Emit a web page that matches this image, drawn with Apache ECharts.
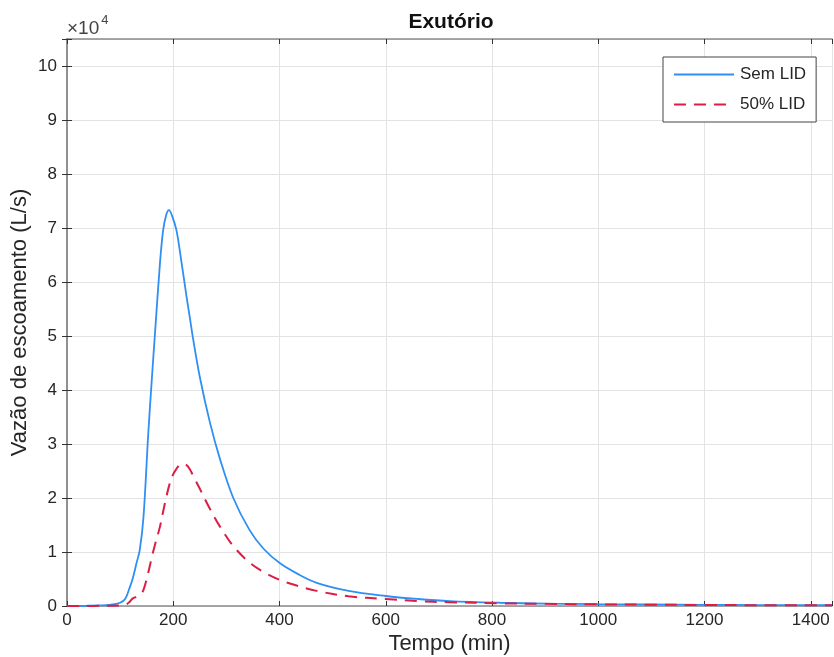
<!DOCTYPE html>
<html>
<head>
<meta charset="utf-8">
<script src="https://cdn.jsdelivr.net/npm/echarts@6/dist/echarts.min.js"></script>
<style>html,body{margin:0;padding:0;background:#fff;}#c{width:834px;height:657px;}</style>
</head>
<body>
<div id="c"></div>
<script>
// Time (min)
var timeMin = [0, 20, 40, 60, 80, 100, 110, 118, 124, 131, 137, 144, 153, 160, 166, 175, 181, 187, 192, 198, 206, 215, 225, 232, 237, 250, 269, 288, 313, 344, 370, 401, 435, 470, 530, 600, 660, 720, 815, 900, 1000, 1100, 1200, 1300, 1440];
// Flow (L/s)
var semLid = [0, 0, 50, 100, 200, 600, 1400, 3400, 5200, 8000, 10400, 16500, 32000, 42500, 51000, 63500, 69600, 72500, 73300, 72200, 69600, 64000, 57300, 52900, 49700, 42400, 34000, 27200, 20000, 14000, 10600, 7900, 5900, 4300, 2800, 1850, 1300, 900, 600, 450, 350, 280, 220, 180, 140];
var lid50 = [0, 0, 0, 30, 50, 100, 200, 800, 1400, 1700, 2000, 3000, 6200, 9200, 11500, 14700, 17500, 20200, 22200, 24000, 25400, 26300, 26100, 25200, 24200, 21700, 18000, 14700, 11100, 8000, 6300, 4800, 3700, 2800, 1800, 1300, 900, 700, 500, 400, 300, 240, 190, 150, 120];
var seriesNames = ['Sem LID', '50% LID'];
var xTicks = [0, 200, 400, 600, 800, 1000, 1200, 1400];
var yTicks = [0, 1, 2, 3, 4, 5, 6, 7, 8, 9, 10];

function pairs(t, v) { return t.map(function (x, i) { return [x, v[i]]; }); }

var font = '"Liberation Sans", Arial, Helvetica, sans-serif';
var axisGray = '#8a8a8a';
var textCol = '#262626';

var chart = echarts.init(document.getElementById('c'));
chart.setOption({
  animation: false,
  backgroundColor: '#fff',
  textStyle: { fontFamily: font },
  title: {
    text: 'Exutório', left: 446, top: 7, textAlign: 'center',
    textStyle: { fontFamily: font, fontSize: 21, fontWeight: 'bold', color: '#111' }
  },
  grid: { left: 67, right: 2, top: 39, bottom: 51, outerBoundsMode: 'none', containLabel: false },
  legend: {
    left: 663, top: 57, orient: 'vertical',
    padding: [9, 10, 9, 10],
    itemWidth: 60, itemHeight: 12, itemGap: 13,
    borderColor: '#444', borderWidth: 1, backgroundColor: '#fff',
    itemStyle: { opacity: 0 },
    textStyle: { fontFamily: font, fontSize: 17, color: textCol, padding: [0, 0, 0, 1] },
    data: seriesNames
  },
  graphic: [{
    type: 'text', left: 67, top: 14,
    style: {
      text: '{a|×10}{b|4}', fontFamily: font,
      rich: {
        a: { fontSize: 19, fill: '#444', fontFamily: font, verticalAlign: 'bottom', lineHeight: 24 },
        b: { fontSize: 13, fill: '#444', fontFamily: font, verticalAlign: 'top', lineHeight: 24, padding: [0, 0, 10, 2] }
      }
    }
  }],
  xAxis: [{
    type: 'value', min: 0, max: 1440, interval: 200,
    name: 'Tempo (min)', nameLocation: 'middle', nameGap: 27, nameMoveOverlap: false,
    nameTextStyle: { fontFamily: font, fontSize: 22, color: textCol },
    axisLine: { show: true, onZero: false, lineStyle: { color: axisGray, width: 1.5 } },
    axisTick: { show: true, inside: true, length: 5, lineStyle: { color: '#333' } },
    axisLabel: {
      fontFamily: font, fontSize: 17, color: textCol, margin: 6,
      formatter: function (v) { return xTicks.indexOf(v) >= 0 ? String(v) : ''; }
    },
    splitLine: { show: true, lineStyle: { color: '#e3e3e3', width: 1 } }
  }, {
    type: 'value', position: 'top', min: 0, max: 1440, interval: 200,
    axisLine: { show: true, onZero: false, lineStyle: { color: axisGray, width: 1.5 } },
    axisTick: { show: true, inside: true, length: 5, lineStyle: { color: '#333' } },
    axisLabel: { show: false }, splitLine: { show: false }
  }],
  yAxis: [{
    type: 'value', min: 0, max: 105000, interval: 10000,
    name: 'Vazão de escoamento (L/s)', nameLocation: 'middle', nameGap: 36, nameMoveOverlap: false,
    nameTextStyle: { fontFamily: font, fontSize: 22, color: textCol },
    axisLine: { show: true, lineStyle: { color: axisGray, width: 1.5 } },
    axisTick: { show: true, inside: true, length: 5, lineStyle: { color: '#333' } },
    axisLabel: {
      fontFamily: font, fontSize: 17, color: textCol, margin: 10,
      formatter: function (v) { var k = v / 10000; return yTicks.indexOf(k) >= 0 ? String(k) : ''; }
    },
    splitLine: { show: true, lineStyle: { color: '#e3e3e3', width: 1 } }
  }, {
    type: 'value', position: 'right', min: 0, max: 105000, interval: 10000,
    axisLine: { show: true, lineStyle: { color: axisGray, width: 1.5 } },
    axisTick: { show: true, inside: true, length: 5, lineStyle: { color: '#333' } },
    axisLabel: { show: false }, splitLine: { show: false }
  }],
  series: [{
    name: seriesNames[0], type: 'line', xAxisIndex: 0, yAxisIndex: 0,
    data: pairs(timeMin, semLid), symbol: 'none', smooth: 0.35,
    lineStyle: { color: '#2e8ff5', width: 1.8 }, itemStyle: { color: '#2e8ff5' }
  }, {
    name: seriesNames[1], type: 'line', xAxisIndex: 0, yAxisIndex: 0,
    data: pairs(timeMin, lid50), symbol: 'none', smooth: 0.35,
    lineStyle: { color: '#dc1e46', width: 2, type: [12, 8] }, itemStyle: { color: '#dc1e46' }
  }]
});
</script>
</body>
</html>
